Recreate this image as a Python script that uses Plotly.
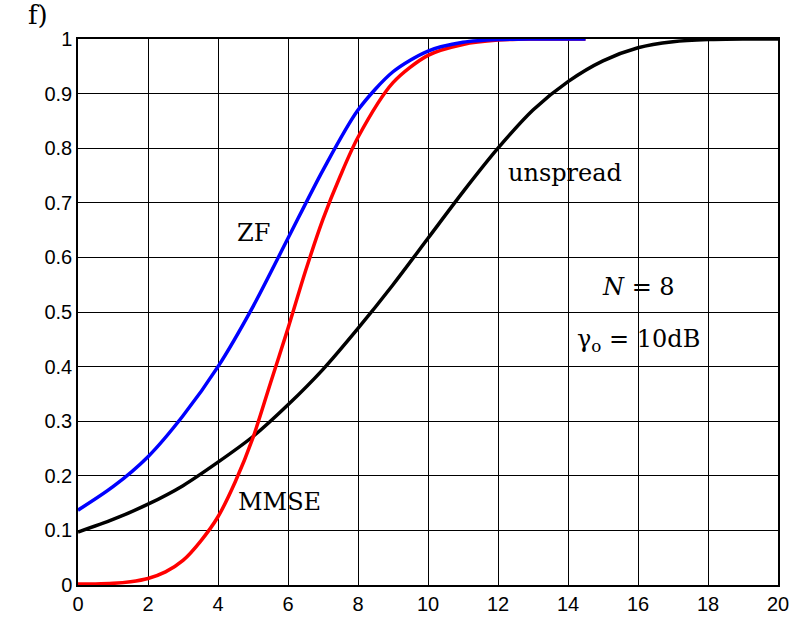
import plotly.graph_objects as go

# Probability curves vs. threshold (dB)
x_zf = [0, 1, 2, 3, 4, 5, 6, 7, 8, 9, 10, 11, 12, 13, 14, 14.5]
y_zf = [0.137, 0.18, 0.235, 0.31, 0.40, 0.51, 0.635, 0.76, 0.87, 0.94, 0.978, 0.994, 0.999, 1.0, 1.0, 1.0]

x_mmse = [0, 0.5, 1, 1.5, 2, 2.5, 3, 3.5, 4, 4.5, 5, 5.5, 6, 6.5, 7, 7.5, 8, 9, 10, 11, 12, 13, 14, 14.5]
y_mmse = [0.002, 0.002, 0.003, 0.006, 0.012, 0.024, 0.045, 0.08, 0.125, 0.19, 0.27, 0.37, 0.47, 0.575, 0.67, 0.75, 0.82, 0.92, 0.97, 0.99, 0.998, 1.0, 1.0, 1.0]

x_unspread = [0, 1, 2, 3, 4, 5, 6, 7, 8, 9, 10, 11, 12, 13, 14, 15, 16, 17, 18, 19, 20]
y_unspread = [0.097, 0.12, 0.148, 0.182, 0.225, 0.272, 0.33, 0.395, 0.47, 0.55, 0.635, 0.72, 0.80, 0.87, 0.922, 0.96, 0.984, 0.995, 0.999, 1.0, 1.0]

x_ticks = list(range(0, 21, 2))
y_ticks = [round(0.1 * i, 1) for i in range(11)]
y_tick_text = ["0", "0.1", "0.2", "0.3", "0.4", "0.5", "0.6", "0.7", "0.8", "0.9", "1"]

fig = go.Figure()
fig.add_trace(go.Scatter(x=x_unspread, y=y_unspread, mode="lines",
                         line=dict(color="black", width=3.5, shape="spline", smoothing=0.8)))
fig.add_trace(go.Scatter(x=x_mmse, y=y_mmse, mode="lines",
                         line=dict(color="red", width=3.5, shape="spline", smoothing=0.8)))
fig.add_trace(go.Scatter(x=x_zf, y=y_zf, mode="lines",
                         line=dict(color="blue", width=3.5, shape="spline", smoothing=0.8)))

serif = "DejaVu Serif, Liberation Serif, serif"
labels = [
    (5.0, 0.645, "ZF"),
    (5.75, 0.152, "MMSE"),
    (13.9, 0.755, "unspread"),
    (16.0, 0.545, "<i>N</i> = 8"),
    (16.0, 0.447, "γ<sub>o</sub> = 10dB"),
]
for lx, ly, txt in labels:
    fig.add_annotation(x=lx, y=ly, text=txt, showarrow=False,
                       font=dict(family=serif, size=24, color="black"))

fig.add_annotation(xref="paper", yref="paper", x=-0.075, y=1.075, text="f)",
                   showarrow=False, font=dict(family=serif, size=26, color="black"))

axis_common = dict(showgrid=True, gridcolor="black", gridwidth=1,
                   showline=True, linecolor="black", linewidth=1.5, mirror=True,
                   ticks="outside", ticklen=0, zeroline=False, automargin=False,
                   tickfont=dict(family="Liberation Sans, Arial, sans-serif", size=20, color="black"))

fig.update_xaxes(range=[0, 20], tickvals=x_ticks, **axis_common)
fig.update_yaxes(range=[0, 1], tickvals=y_ticks, ticktext=y_tick_text, **axis_common)

fig.update_layout(width=802, height=621, showlegend=False,
                  plot_bgcolor="white", paper_bgcolor="white",
                  margin=dict(l=78, r=24, t=39, b=36))

fig.write_html("out.html")
